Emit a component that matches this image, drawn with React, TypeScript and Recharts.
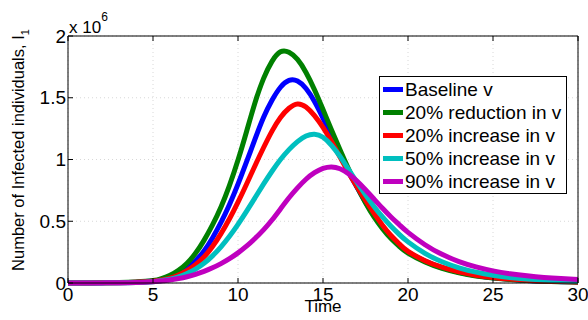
import React from 'react';
import { LineChart, Line, XAxis, YAxis, CartesianGrid, Legend } from 'recharts';

const font = '"Liberation Sans", Arial, sans-serif';

// time (days) and infected counts, in units of 10^6
const time = [
  0, 1, 2, 3, 4, 5, 5.5, 6, 6.5, 7, 7.5, 8, 8.5, 9, 9.5, 10, 10.5, 11, 11.5, 12, 12.5, 13, 13.5, 14, 14.5, 15,
  15.5, 16, 16.5, 17, 17.5, 18, 18.5, 19, 19.5, 20, 21, 22, 23, 24, 25, 26, 27, 28, 29, 30,
];
const baseline = [
  0.0003, 0.0006, 0.0014, 0.003, 0.007, 0.016, 0.028, 0.047, 0.077, 0.12, 0.18, 0.26, 0.365, 0.49, 0.635, 0.8, 0.98,
  1.165, 1.34, 1.48, 1.585, 1.64, 1.635, 1.575, 1.47, 1.335, 1.19, 1.04, 0.9, 0.775, 0.655, 0.55, 0.455, 0.375, 0.307,
  0.25, 0.177, 0.124, 0.087, 0.06, 0.042, 0.03, 0.021, 0.015, 0.011, 0.008,
];
const reduction20 = [
  0.0003, 0.0007, 0.0016, 0.0036, 0.0085, 0.02, 0.036, 0.062, 0.102, 0.16, 0.24, 0.345, 0.47, 0.615, 0.79, 0.995,
  1.225, 1.46, 1.655, 1.795, 1.872, 1.868, 1.81, 1.705, 1.565, 1.405, 1.24, 1.08, 0.925, 0.78, 0.65, 0.535, 0.44, 0.36,
  0.295, 0.242, 0.17, 0.118, 0.082, 0.057, 0.04, 0.028, 0.02, 0.014, 0.01, 0.007,
];
const increase20 = [
  0.0003, 0.0006, 0.0012, 0.0026, 0.0058, 0.014, 0.024, 0.04, 0.065, 0.1, 0.148, 0.21, 0.295, 0.4, 0.52, 0.655, 0.8,
  0.95, 1.095, 1.23, 1.34, 1.415, 1.45, 1.425, 1.355, 1.26, 1.145, 1.02, 0.895, 0.78, 0.67, 0.565, 0.468, 0.385,
  0.315, 0.256, 0.181, 0.128, 0.09, 0.063, 0.045, 0.032, 0.023, 0.016, 0.012, 0.009,
];
const increase50 = [
  0.0003, 0.0005, 0.001, 0.0022, 0.005, 0.011, 0.019, 0.031, 0.05, 0.077, 0.113, 0.16, 0.22, 0.293, 0.378, 0.475,
  0.58, 0.69, 0.8, 0.905, 1.0, 1.08, 1.145, 1.19, 1.205, 1.18, 1.115, 1.025, 0.92, 0.815, 0.715, 0.62, 0.535, 0.46,
  0.392, 0.333, 0.24, 0.172, 0.123, 0.088, 0.063, 0.045, 0.033, 0.024, 0.018, 0.014,
];
const increase90 = [
  0.0003, 0.0005, 0.001, 0.002, 0.0045, 0.011, 0.016, 0.024, 0.036, 0.051, 0.07, 0.094, 0.123, 0.157, 0.197, 0.244,
  0.298, 0.36, 0.43, 0.51, 0.6, 0.69, 0.77, 0.84, 0.893, 0.928, 0.94, 0.925, 0.885, 0.825, 0.755, 0.68, 0.605, 0.535,
  0.47, 0.41, 0.31, 0.232, 0.173, 0.13, 0.098, 0.075, 0.058, 0.045, 0.036, 0.029,
];

const xTicks = [0, 5, 10, 15, 20, 25, 30];
const yTicks = [0, 0.5, 1, 1.5, 2];

const series = [
  { key: 'baseline', name: 'Baseline v', color: '#0000ff' },
  { key: 'reduction20', name: '20% reduction in v', color: '#008000' },
  { key: 'increase20', name: '20% increase in v', color: '#ff0000' },
  { key: 'increase50', name: '50% increase in v', color: '#00bfbf' },
  { key: 'increase90', name: '90% increase in v', color: '#bf00bf' },
];

const data = time.map((t, i) => ({
  t,
  baseline: baseline[i],
  reduction20: reduction20[i],
  increase20: increase20[i],
  increase50: increase50[i],
  increase90: increase90[i],
}));

const tickStyle = { fontSize: 19, fill: '#000', fontFamily: font };

const renderLegend = () => (
  <div
    style={{
      border: '1px solid #000',
      background: '#fff',
      width: 183,
      padding: '1px 0 0 3px',
      fontFamily: font,
      fontSize: 19,
      color: '#000',
      boxSizing: 'content-box',
    }}
  >
    {series.map((s) => (
      <div key={s.key} style={{ display: 'flex', alignItems: 'center', height: 23, whiteSpace: 'nowrap' }}>
        <span style={{ display: 'inline-block', width: 20, height: 5, background: s.color, marginRight: 2 }} />
        <span>{s.name}</span>
      </div>
    ))}
  </div>
);

const YLabel = () => (
  <text x={24} y={150} transform="rotate(-90 24 150)" textAnchor="middle" fontSize={16.5} fontFamily={font} fill="#000">
    Number of Infected individuals, I
    <tspan fontSize={11} dy={5}>1</tspan>
  </text>
);

const XLabel = () => (
  <text x={323} y={312} textAnchor="middle" fontSize={17} fontFamily={font} fill="#000">
    Time
  </text>
);

const ScaleLabel = () => (
  <text x={69} y={33} fontSize={17} fontFamily={font} fill="#000">
    x 10
    <tspan fontSize={12} dy={-12}>6</tspan>
  </text>
);

export default function App() {
  return (
    <div style={{ position: 'absolute', left: 0, top: 0, background: '#fff' }}>
      <LineChart width={588} height={320} data={data} margin={{ top: 35, right: 9, bottom: 36, left: 67 }}>
        <CartesianGrid stroke="#d8d8d8" strokeDasharray="1 3" />
        <XAxis
          dataKey="t"
          type="number"
          domain={[0, 30]}
          ticks={xTicks}
          height={1}
          tickSize={-5}
          tickMargin={10}
          tick={tickStyle}
          stroke="#000"
          tickLine={{ stroke: '#000' }}
          label={{ content: () => <XLabel /> }}
        />
        <XAxis
          xAxisId="top"
          orientation="top"
          dataKey="t"
          type="number"
          domain={[0, 30]}
          ticks={xTicks}
          height={1}
          tickSize={-5}
          tickFormatter={() => ''}
          stroke="#000"
          tickLine={{ stroke: '#000' }}
          label={{ content: () => <ScaleLabel /> }}
        />
        <YAxis
          type="number"
          domain={[0, 2]}
          ticks={yTicks}
          width={1}
          tickSize={-5}
          tickMargin={7}
          tick={tickStyle}
          stroke="#000"
          tickLine={{ stroke: '#000' }}
          label={{ content: () => <YLabel /> }}
        />
        <YAxis
          yAxisId="right"
          orientation="right"
          type="number"
          domain={[0, 2]}
          ticks={yTicks}
          width={1}
          tickSize={-5}
          tickFormatter={() => ''}
          stroke="#000"
          tickLine={{ stroke: '#000' }}
        />
        {series.map((s) => (
          <Line
            key={s.key}
            type="natural"
            dataKey={s.key}
            name={s.name}
            stroke={s.color}
            strokeWidth={5}
            dot={false}
            isAnimationActive={false}
          />
        ))}
        <Legend
          layout="vertical"
          align="center"
          verticalAlign="middle"
          content={renderLegend}
          wrapperStyle={{ position: 'absolute', left: 379, top: 76, width: 'auto', height: 'auto' }}
        />
      </LineChart>
    </div>
  );
}
